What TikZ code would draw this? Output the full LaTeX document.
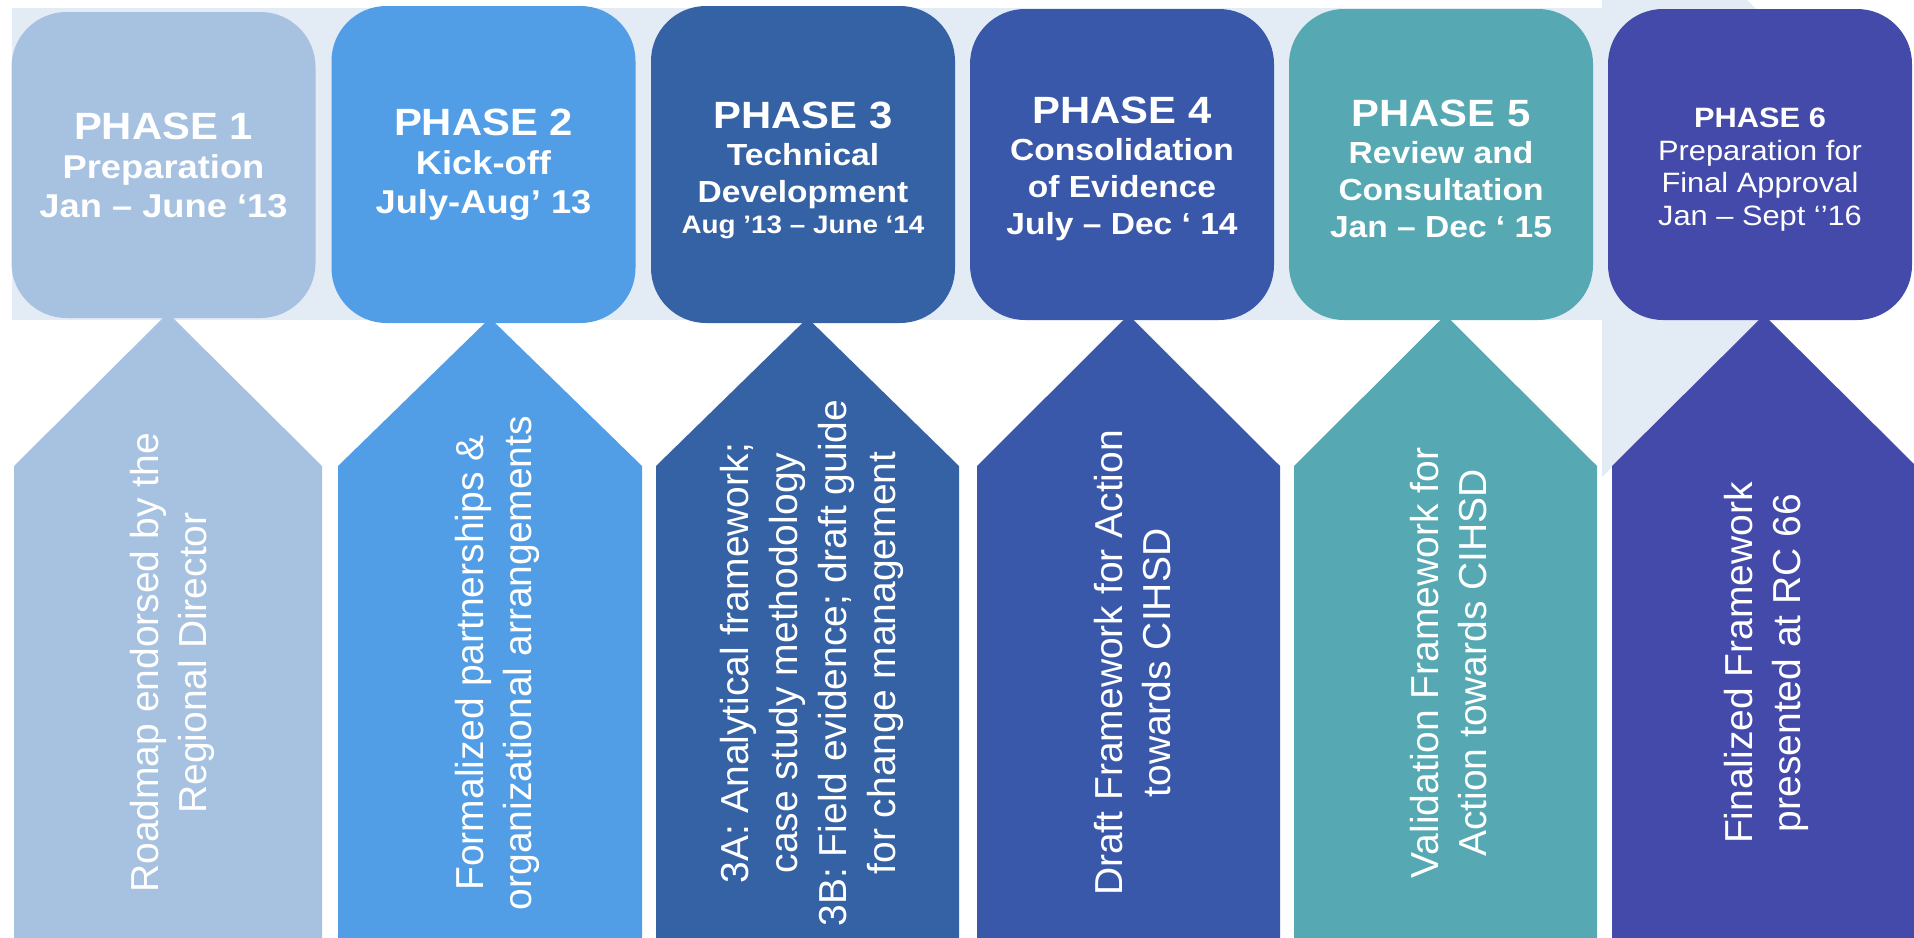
\documentclass[tikz,border=0pt]{standalone}
\usepackage{fontspec}
\setmainfont{Liberation Sans}
\newfontfamily\phasefont{Liberation Sans}[FakeStretch=1.1]
\usepackage{xcolor}

\definecolor{bandblue}{HTML}{E3EBF5}
\definecolor{phaseA}{HTML}{A7C1E0}
\definecolor{phaseB}{HTML}{529EE6}
\definecolor{phaseC}{HTML}{3561A5}
\definecolor{phaseD}{HTML}{3A58AA}
\definecolor{phaseE}{HTML}{56A8B2}
\definecolor{phaseF}{HTML}{444AAA}

\newcommand\phhead[1]{{\fontsize{38}{38}\selectfont\bfseries #1}}

\begin{document}
\begin{tikzpicture}[x=1pt, y=-1pt,
  phasebox/.style={rounded corners=55pt, minimum width=304pt, inner sep=0pt},
  phasetext/.style={text=white, align=center, inner sep=0pt},
  outcome/.style={rotate=90, text=white, align=center,
    font=\fontsize{39}{48}\selectfont}]
\useasboundingbox (0,0) rectangle (1914,937);

% Light band behind the phases
\fill[bandblue] (12,8) rectangle (1602,320);
\fill[bandblue] (1602,0) -- (1747,0) -- (1770,23) -- (1770,310)
  -- (1764,315) -- (1602,477) -- cycle;

% Outcome arrows
\foreach \xl/\xr/\ay/\col in {14/322/313/phaseA, 338/642/318/phaseB,
    656/959/318/phaseC, 977/1280/315/phaseD, 1294/1597/315/phaseE,
    1612/1916/315/phaseF}
  \fill[\col] (\xl,940) -- (\xl,466) -- ({(\xl+\xr)/2},\ay)
    -- (\xr,466) -- (\xr,940) -- cycle;

% Phase boxes
\node[phasebox, fill=phaseA, minimum height=306pt] (ph1) at (163.5,165) {};
\node[phasebox, fill=phaseB, minimum height=317pt] (ph2) at (483.5,164.5) {};
\node[phasebox, fill=phaseC, minimum height=317pt] (ph3) at (803,164.5) {};
\node[phasebox, fill=phaseD, minimum height=311pt] (ph4) at (1122,164.5) {};
\node[phasebox, fill=phaseE, minimum height=311pt] (ph5) at (1441,164.5) {};
\node[phasebox, fill=phaseF, minimum height=311pt] (ph6) at (1760,164.5) {};

% Phase titles
\node[phasetext, font=\phasefont\bfseries\fontsize{33}{39}\selectfont]
  (ph1txt) at (ph1.center) {\phhead{PHASE 1}\\Preparation\\Jan – June ‘13};
\node[phasetext, font=\phasefont\bfseries\fontsize{33}{39}\selectfont]
  (ph2txt) at (ph2.center) {\phhead{PHASE 2}\\Kick-off\\July-Aug’ 13};
\node[phasetext, font=\phasefont\bfseries\fontsize{30.5}{37}\selectfont]
  (ph3txt) at ([yshift=-6pt]ph3.center)
  {\phhead{PHASE 3}\\Technical\\Development\\[-6pt]
   {\fontsize{25.3}{30}\selectfont Aug ’13 – June ‘14}};
\node[phasetext, font=\phasefont\bfseries\fontsize{30.5}{37}\selectfont]
  (ph4txt) at ([yshift=-4pt]ph4.center)
  {\phhead{PHASE 4}\\Consolidation\\of Evidence\\July – Dec ‘ 14};
\node[phasetext, font=\phasefont\bfseries\fontsize{30.5}{37}\selectfont]
  (ph5txt) at ([yshift=-4pt]ph5.center)
  {\phhead{PHASE 5}\\Review and\\Consultation\\Jan – Dec ‘ 15};
\node[phasetext, font=\phasefont\fontsize{28}{32.5}\selectfont]
  (ph6txt) at ([yshift=-5pt]ph6.center)
  {{\bfseries PHASE 6}\\Preparation for\\Final Approval\\Jan – Sept ‘’16};

% Outcomes
\node[outcome] (out1) at (172,663) {Roadmap endorsed by the\\Regional Director};
\node[outcome] (out2) at (497,663) {Formalized partnerships \&\\organizational arrangements};
\node[outcome, font=\fontsize{39}{49}\selectfont] (out3) at (812,663)
  {3A: Analytical framework;\\case study methodology\\3B: Field evidence; draft guide\\for change management};
\node[outcome] (out4) at (1133,663) {Draft Framework for Action\\towards CIHSD};
\node[outcome] (out5) at (1449,663) {Validation Framework for\\Action towards CIHSD};
\node[outcome] (out6) at (1766,663) {Finalized Framework\\presented at RC 66};
\end{tikzpicture}
\end{document}
